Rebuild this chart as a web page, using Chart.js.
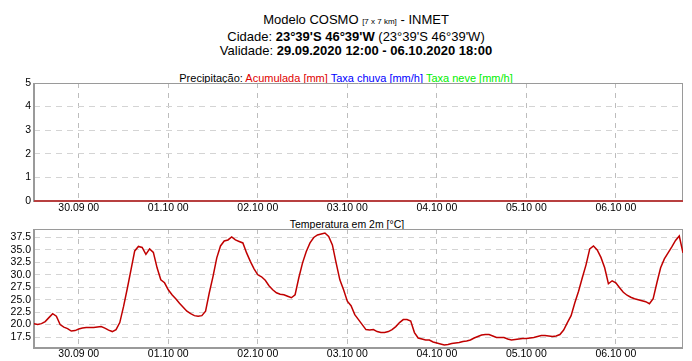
<!DOCTYPE html>
<html><head><meta charset="utf-8">
<script src="https://cdn.jsdelivr.net/npm/chart.js@4"></script>
<style>
html,body{margin:0;padding:0;background:#fff;}
body{width:692px;height:361px;position:relative;overflow:hidden;font-family:"Liberation Sans",Arial,sans-serif;color:#000;}
.t{position:absolute;white-space:nowrap;text-align:center;}
#title{left:156px;width:400px;top:13px;font-size:13px;line-height:14.5px;}
#title .s{font-size:8px;}
#ptitle{left:0;width:692px;top:72px;font-size:11px;line-height:12px;}
#ttitle{left:0;width:694px;top:218px;font-size:10.5px;line-height:12px;}
canvas{position:absolute;left:0;}
#c1{top:60px;}
#c2{top:215px;}
</style>
</head><body>
<div class="t" id="title">Modelo COSMO <span class="s">[7 x 7 km]</span> - INMET<br>Cidade: <b>23°39'S 46°39'W</b> (23°39'S 46°39'W)<br>Validade: <b>29.09.2020 12:00 - 06.10.2020 18:00</b></div>
<div class="t" id="ptitle">Precipitação: <span style="color:#e00000">Acumulada [mm]</span> <span style="color:#0000ff">Taxa chuva [mm/h]</span> <span style="color:#00ee00">Taxa neve [mm/h]</span></div>
<div class="t" id="ttitle">Temperatura em 2m [°C]</div>
<canvas id="c1" width="692" height="160"></canvas>
<canvas id="c2" width="692" height="146"></canvas>
<script>
// hours since 29.09.2020 12:00
const dayTickHours = [12, 36, 60, 84, 108, 132, 156];
const dayLabels = ["30.09 00", "01.10 00", "02.10 00", "03.10 00", "04.10 00", "05.10 00", "06.10 00"];
const precipTicks = [0, 1, 2, 3, 4, 5];
const tempTicks = [17.5, 20.0, 22.5, 25.0, 27.5, 30.0, 32.5, 35.0, 37.5];

// accumulated precipitation [mm], every 6 h
const precipAcc = [0,0,0,0,0,0,0,0,0,0,0,0,0,0,0,0,0,0,0,0,0,0,0,0,0,0,0,0,0,0];
// 2 m temperature [°C], hourly from 29.09 12:00 to 06.10 18:00
const temp2m = [
 20.2, 20.0, 20.2, 20.6, 21.4, 22.2, 21.7, 20.0, 19.5, 19.2,
 18.7, 18.8, 19.1, 19.3, 19.4, 19.4, 19.4, 19.5, 19.6, 19.3,
 18.9, 18.6, 19.0, 20.4, 23.6, 27.2, 31.0, 34.8, 35.7, 35.5,
 34.1, 35.2, 34.5, 31.4, 29.0, 28.4, 27.0, 26.0, 25.2, 24.3,
 23.5, 22.7, 22.2, 21.8, 21.7, 21.8, 22.7, 26.4, 29.7, 33.4,
 35.8, 36.8, 37.0, 37.6, 37.0, 36.7, 36.4, 34.4, 32.7, 31.2,
 30.0, 29.6, 28.9, 27.8, 27.0, 26.4, 26.1, 26.0, 25.7, 25.4,
 26.0, 29.4, 32.4, 34.7, 36.4, 37.5, 38.0, 38.2, 38.4, 37.7,
 36.0, 32.4, 29.0, 27.0, 24.7, 23.8, 22.0, 21.0, 20.0, 19.0,
 18.9, 19.0, 18.6, 18.4, 18.4, 18.6, 19.0, 19.6, 20.4, 21.0,
 21.0, 20.7, 18.4, 17.3, 17.1, 16.9, 16.9, 16.5, 16.3, 16.1,
 15.9, 16.0, 16.2, 16.3, 16.4, 16.6, 16.7, 16.9, 17.3, 17.6,
 17.9, 18.0, 18.0, 17.7, 17.4, 17.4, 17.4, 17.1, 16.9, 17.0,
 17.1, 17.2, 17.2, 17.3, 17.4, 17.6, 17.8, 17.8, 17.7, 17.6,
 17.7, 18.0, 18.9, 20.4, 21.8, 24.4, 26.7, 29.4, 32.0, 35.2,
 35.8, 35.0, 33.5, 31.4, 28.2, 28.8, 28.4, 27.4, 26.5, 25.9,
 25.5, 25.2, 25.0, 24.8, 24.6, 24.2, 25.2, 28.4, 31.4, 33.2,
 34.4, 35.6, 36.9, 37.8, 34.4
];

Chart.defaults.font.family = "'Liberation Sans', Arial, sans-serif";
Chart.defaults.font.size = 10.5;
Chart.defaults.color = '#000';

const framePlugin = {
  id: 'frame',
  beforeDatasetsDraw(chart) {
    const ctx = chart.ctx, a = chart.chartArea;
    ctx.save();
    ctx.strokeStyle = '#9a9a9a';
    ctx.lineWidth = 1;
    ctx.beginPath();
    ctx.moveTo(a.left, a.top + 0.5); ctx.lineTo(a.right, a.top + 0.5);
    ctx.moveTo(a.right - 0.5, a.top); ctx.lineTo(a.right - 0.5, a.bottom);
    ctx.stroke();
    ctx.lineWidth = 2;
    ctx.beginPath();
    ctx.moveTo(a.left, a.top); ctx.lineTo(a.left, a.bottom + 1);
    ctx.moveTo(a.left - 1, a.bottom); ctx.lineTo(a.right, a.bottom);
    ctx.stroke();
    ctx.restore();
  }
};

function xScale(pad, h) {
  return {
    type: 'linear', min: 0, max: 174,
    afterBuildTicks: s => { s.ticks = dayTickHours.map(v => ({ value: v })); },
    afterFit: s => { s.height = h; },
    ticks: { autoSkip: false, maxRotation: 0, padding: pad,
      callback: v => dayLabels[dayTickHours.indexOf(v)] },
    grid: { color: '#bdbdbd', lineWidth: 1, drawTicks: false },
    border: { display: false, dash: [5, 5] }
  };
}
function yScale(min, max, vals, fmt) {
  return {
    min: min, max: max,
    afterBuildTicks: s => { s.ticks = vals.map(v => ({ value: v })); },
    afterFit: s => { s.width = 34; },
    ticks: { autoSkip: false, padding: 3, callback: fmt },
    grid: { drawTicks: false, lineWidth: 1,
      color: c => (c.tick && (c.tick.value === min || c.tick.value === max)) ? 'rgba(0,0,0,0)' : '#d4d4d4' },
    border: { display: false, dash: [6, 5] }
  };
}

new Chart(document.getElementById('c1'), {
  type: 'line',
  data: { datasets: [{
    label: 'Acumulada [mm]',
    data: precipAcc.map((v, i) => ({ x: i * 6, y: v })),
    borderColor: '#b84040', borderWidth: 2, pointRadius: 0, tension: 0, clip: 4
  }]},
  options: {
    responsive: false, animation: false, devicePixelRatio: 1,
    layout: { padding: { top: 23, right: 9, left: 0, bottom: 0 } },
    plugins: { legend: { display: false }, tooltip: { enabled: false } },
    scales: {
      x: xScale(1, 19),
      y: yScale(0, 5, precipTicks, v => String(v))
    }
  },
  plugins: [framePlugin]
});

new Chart(document.getElementById('c2'), {
  type: 'line',
  data: { datasets: [{
    label: 'Temperatura em 2m',
    data: temp2m.map((v, i) => ({ x: i, y: v })),
    borderColor: '#c00000', borderWidth: 1.5, pointRadius: 0, tension: 0
  }]},
  options: {
    responsive: false, animation: false, devicePixelRatio: 1,
    layout: { padding: { top: 14, right: 9, left: 0, bottom: 0 } },
    plugins: { legend: { display: false }, tooltip: { enabled: false } },
    scales: {
      x: xScale(0, 13),
      y: yScale(15.3, 39.2, tempTicks, v => v.toFixed(1))
    }
  },
  plugins: [framePlugin]
});
</script>
</body></html>
